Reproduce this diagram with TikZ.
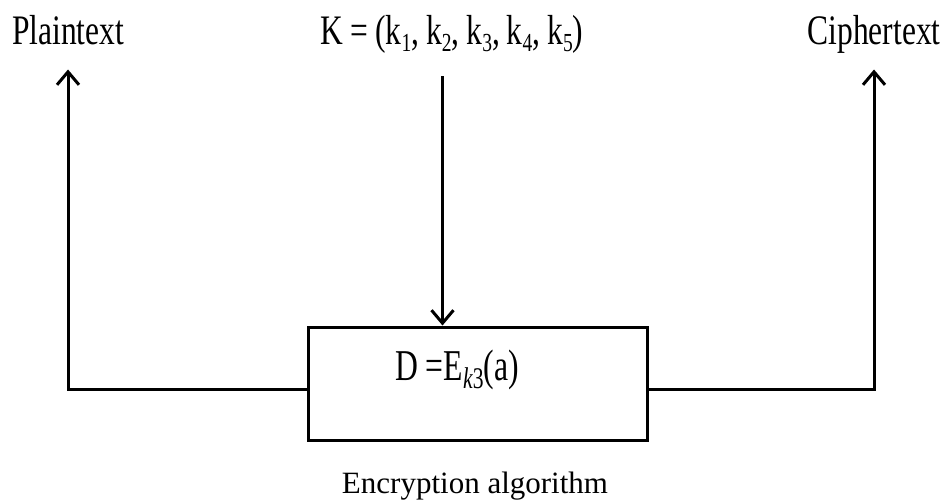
\documentclass[tikz,border=0pt]{standalone}
\usepackage{fontspec}
\setmainfont{Liberation Serif}
\newfontfamily\narrowfont[FakeStretch=0.75]{Liberation Serif}
\newfontfamily\formulafont[FakeStretch=0.72]{Liberation Serif}
\usetikzlibrary{arrows.meta}
% lowered subscripts as in the scanned labels
\newcommand{\lowsub}[1]{\raisebox{-7pt}{\fontsize{26}{26}\selectfont #1}}

\begin{document}
\begin{tikzpicture}[x=1pt,y=-1pt,line width=3pt,
  conn/.style={-{Straight Barb[length=13pt,width=22pt]}},
  label node/.style={font=\narrowfont\fontsize{42}{46}\selectfont,anchor=base,text depth=0pt,inner ysep=23pt},
  box node/.style={draw,minimum width=339pt,minimum height=113pt,inner sep=0pt}]

  \useasboundingbox (0,0) rectangle (946,503);

  \node[label node] (plain) at (68,45) {Plaintext};
  \node[label node] (key) at (452,45) {K\,=\,(k\lowsub{1},\,k\lowsub{2},\,k\lowsub{3},\,k\lowsub{4},\,k\lowsub{5})};
  \node[label node] (cipher) at (874,45) {Ciphertext};

  \node[box node] (enc) at (477.5,383.5) {};
  \node[font=\formulafont\fontsize{44}{48}\selectfont,anchor=base] (encf) at (457,380)
    {D =E\raisebox{-8pt}{\fontsize{30}{30}\selectfont\textit{k}3}(a)};
  \node[font=\fontsize{31}{36}\selectfont,anchor=base] (caption) at (475,493) {Encryption algorithm};

  \coordinate (keyin) at ([xshift=-35pt]enc.north);

  \draw[conn] ([yshift=-6pt]enc.west) -| (plain.south);
  \draw[conn] ([yshift=-6pt]enc.east) -| (cipher.south);
  \draw[conn,shorten <=7pt] (key.south -| keyin) -- (keyin);

\end{tikzpicture}
\end{document}
